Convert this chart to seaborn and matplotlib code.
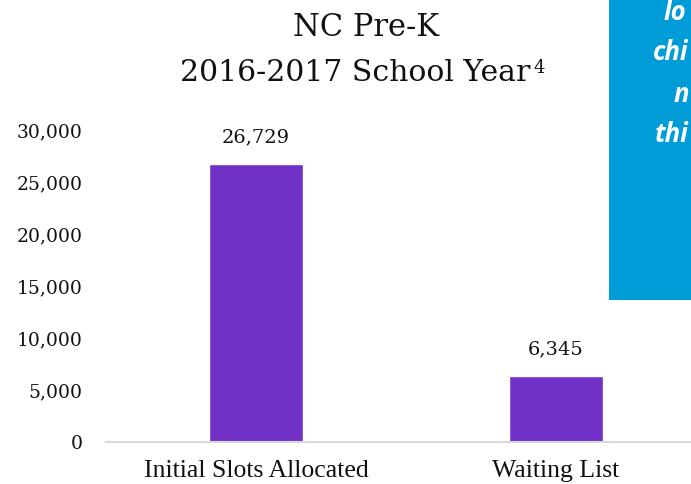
import matplotlib
matplotlib.use("Agg")
import matplotlib.pyplot as plt
import seaborn as sns
import pandas as pd
from matplotlib.patches import Rectangle

categories = ["Initial Slots Allocated", "Waiting List"]
values = [26729, 6345]
value_labels = ["26,729", "6,345"]
ytick_values = [0, 5000, 10000, 15000, 20000, 25000, 30000]
ytick_labels = ["0", "5,000", "10,000", "15,000", "20,000", "25,000", "30,000"]
side_text = ["lo", "chi", "n", "thi"]

sns.set_theme(style="white")
plt.rcParams['font.family'] = ['DejaVu Serif']

W, H = 691, 484
fig = plt.figure(figsize=(W / 100, H / 100), dpi=100)
ax = fig.add_axes([106 / W, (H - 442) / H, 600 / W, 312 / H])

df = pd.DataFrame({"cat": categories, "val": values})
sns.barplot(data=df, x="cat", y="val", color="#7131C7", saturation=1,
            width=0.316, ax=ax)

ax.set_ylim(0, 30000)
ax.set_xlim(-0.5, 1.5)
ax.set_yticks(ytick_values)
ax.set_yticklabels(ytick_labels, fontsize=13.5, color="#111111")
ax.set_xlabel("")
ax.set_ylabel("")
ax.tick_params(axis="y", length=0, pad=17)
ax.tick_params(axis="x", length=0, pad=13, labelcolor="#111111")
for lbl in ax.get_xticklabels():
    lbl.set_family("Liberation Serif")
    lbl.set_fontsize(18.5)

for s in ["top", "right", "left"]:
    ax.spines[s].set_visible(False)
ax.spines["bottom"].set_color("#D9D9D9")
ax.spines["bottom"].set_linewidth(1.5)

for i, (v, t) in enumerate(zip(values, value_labels)):
    ax.annotate(t, (i, v), xytext=(0, 19), textcoords="offset points",
                ha="center", va="center", fontsize=14, color="#111111")

# Title
fig.text(366 / W, 1 - 28 / H, "NC Pre-K", ha="center", va="center",
         fontsize=22, color="#111111")
fig.text(355 / W, 1 - 73 / H, "2016-2017 School Year", ha="center", va="center",
         fontsize=21.5, color="#111111")
fig.text(534 / W, 1 - 68 / H, "4", ha="left", va="center",
         fontsize=13, color="#111111")

# Blue side box (cropped)
fig.patches.append(Rectangle((609 / W, 1 - 300 / H), 200 / W, 300 / H,
                             transform=fig.transFigure, facecolor="#009CD8",
                             edgecolor="none", zorder=0))
ys = [12, 53, 94, 134]
xs = [664, 653, 674, 655]
for t, x, y in zip(side_text, xs, ys):
    fig.text(x / W, 1 - y / H, t, ha="left", va="center", fontsize=18.5,
             color="white", fontweight="bold", fontstyle="italic",
             family="Open Sans")

fig.savefig("out.png", dpi=100)
